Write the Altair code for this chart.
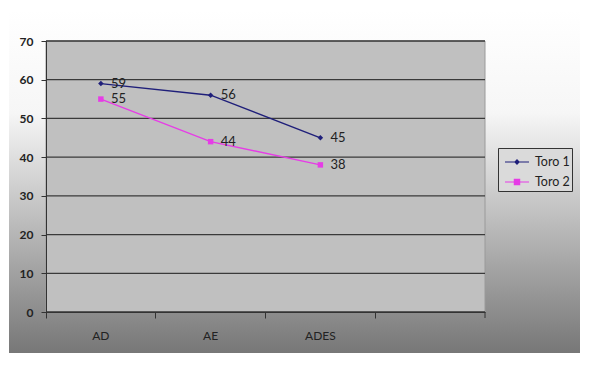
import altair as alt
import pandas as pd

categories = ["AD", "AE", "ADES"]
all_categories = ["AD", "AE", "ADES", " "]
toro1 = [59, 56, 45]
toro2 = [55, 44, 38]
series_names = ["Toro 1", "Toro 2"]
series_colors = ["#1f1f7a", "#e63ce6"]
series_shapes = ["diamond", "square"]
legend_shapes = ["M-1,-0.05H1V0.05H-1Z M0,-0.24L0.24,0L0,0.24L-0.24,0Z",
                 "M-1,-0.05H1V0.05H-1Z M-0.27,-0.27H0.27V0.27H-0.27Z"]
y_ticks = [0, 10, 20, 30, 40, 50, 60, 70]

rows = []
for c, a, b in zip(categories, toro1, toro2):
    rows.append({"cat": c, "serie": "Toro 1", "valor": a})
    rows.append({"cat": c, "serie": "Toro 2", "valor": b})
df = pd.DataFrame(rows)
grid_df = pd.DataFrame({"v": y_ticks})
one = pd.DataFrame({"a": [0]})

W, H = 439, 271
FONT = "Lato"

xscale = alt.Scale(type="band", domain=all_categories, paddingInner=0, paddingOuter=0)
yscale = alt.Scale(domain=[0, 70], nice=False)
cscale = alt.Scale(domain=series_names, range=series_colors)

x_axis = alt.Axis(title=None, bandPosition=0, labelAngle=0, tickSize=6, labelPadding=12,
                  labelFontSize=12, labelFont=FONT, labelColor="#222", domainColor="#333",
                  tickColor="#333", grid=False, zindex=1)
y_axis = alt.Axis(title=None, values=y_ticks, tickSize=5, labelPadding=8, labelFontSize=12,
                  labelFontWeight="bold", labelFont=FONT, labelColor="#222", domainColor="#333",
                  tickColor="#333", grid=False, zindex=1)

X = alt.X("cat:N", scale=xscale, axis=x_axis)
Y = alt.Y("valor:Q", scale=yscale, axis=y_axis)

bg = alt.Chart(one).mark_rect(
    color=alt.LinearGradient(
        gradient="linear", x1=0, y1=0, x2=0, y2=1,
        stops=[alt.GradientStop(offset=0, color="#ffffff"),
               alt.GradientStop(offset=0.3, color="#f6f6f6"),
               alt.GradientStop(offset=1, color="#777777")]),
).encode(x=alt.value(-37), x2=alt.value(534), y=alt.value(-31), y2=alt.value(312))

plot_bg = alt.Chart(one).mark_rect(color="#c0c0c0", stroke="#9a9a9a", strokeWidth=1).encode(
    x=alt.value(0), x2=alt.value(W), y=alt.value(0), y2=alt.value(H))

grid = alt.Chart(grid_df).mark_rule(color="#3a3a3a", strokeWidth=1.3).encode(
    y=alt.Y("v:Q", scale=yscale, axis=y_axis))

end_tick = alt.Chart(one).mark_rule(color="#333").encode(
    x=alt.value(W), y=alt.value(H), y2=alt.value(H + 6))

legend_def = alt.Legend(title=None, orient="none", legendX=452, legendY=107,
                        fillColor="#dadada", strokeColor="#333", padding=2,
                        labelFont=FONT, labelFontSize=12.5, labelColor="#222",
                        rowPadding=1, symbolSize=576, symbolOffset=5, labelOffset=6,
                        symbolOpacity=1, symbolStrokeWidth=0)

legend_layer = alt.Chart(df).mark_point(filled=True, opacity=0).encode(
    x=X, y=Y,
    color=alt.Color("serie:N", scale=cscale, legend=legend_def),
    shape=alt.Shape("serie:N", scale=alt.Scale(domain=series_names, range=legend_shapes), legend=None),
)

lines = alt.Chart(df).mark_line(strokeWidth=1.4).encode(
    x=X, y=Y, color=alt.Color("serie:N", scale=cscale))

point_layers = []
for name, shp in zip(series_names, series_shapes):
    point_layers.append(
        alt.Chart(df).transform_filter(alt.datum.serie == name)
        .mark_point(filled=True, size=30, opacity=1, shape=shp)
        .encode(x=X, y=Y, color=alt.Color("serie:N", scale=cscale))
    )

labels = alt.Chart(df).mark_text(align="left", dx=10, fontSize=13, font=FONT, color="#222").encode(
    x=X, y=Y, text="valor:Q",
)

chart = alt.layer(bg, plot_bg, grid, end_tick, legend_layer, lines, *point_layers, labels).properties(
    width=W, height=H,
    autosize=alt.AutoSizeParams(type="none"),
    padding={"left": 38, "top": 33, "right": 100, "bottom": 45},
).configure_view(stroke=None)

chart.save("out.html", embed_options={"renderer": "svg", "actions": False})
